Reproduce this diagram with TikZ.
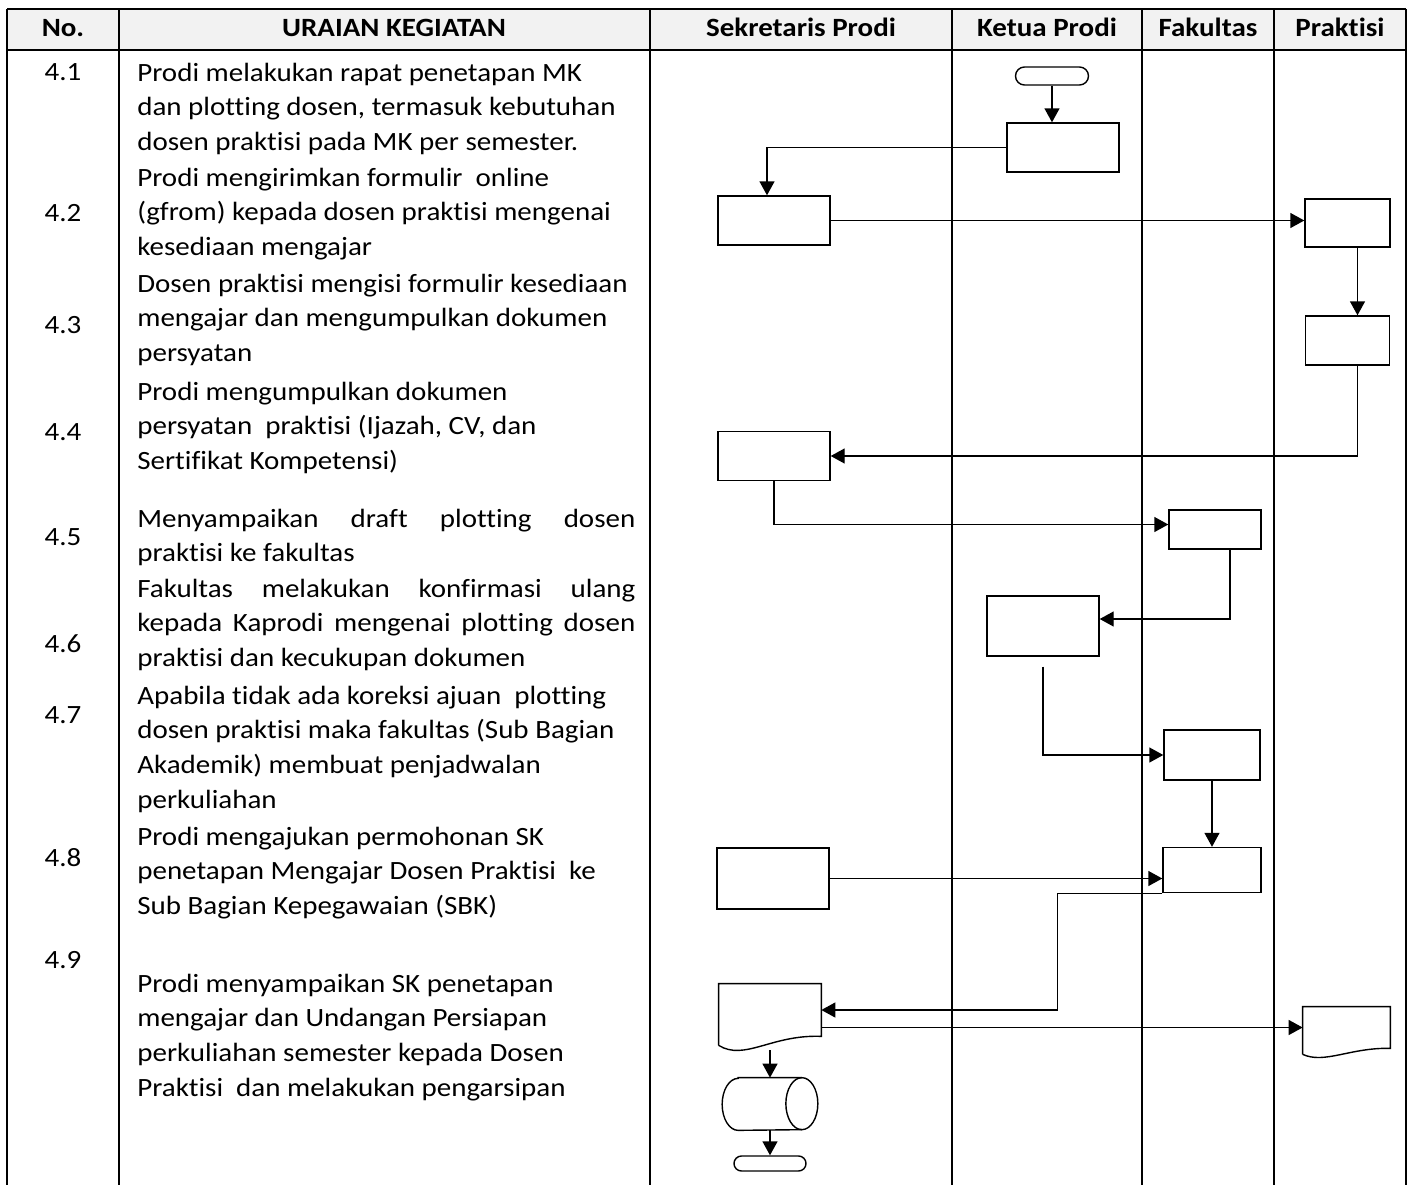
\documentclass[tikz,border=0pt]{standalone}
\usepackage{fontspec}
\setmainfont{Carlito}[Ligatures = NoCommon, FakeStretch = 1.1]
\usepackage{xcolor}
\definecolor{headgray}{HTML}{F2F2F2}
\usetikzlibrary{positioning, arrows.meta}

\begin{document}
\begin{tikzpicture} [x = 0.2mm, y = -0.2mm, on grid,
        font = \fontsize{15pt}{19.8pt}\selectfont,
        lane/.style = {line width = 0.85pt},
        box/.style = {draw, line width = 0.8pt, inner sep = 0pt},
        term/.style = {box, rounded corners = 1.8mm, minimum width = 14.6mm, minimum height = 3.6mm},
        num/.style = {anchor = base, inner sep = 0pt},
        desc/.style = {anchor = base west, inner sep = 0pt, text width = 99.6mm, align = left,
        execute at begin node = {\spaceskip = 0pt \xspaceskip = 0pt}},
        conn/.style = {line width = 0.8pt, -{Triangle[length = 2.8mm, width = 3mm]}}]
        \useasboundingbox (0,0) rectangle (1410,1185);

        % table
        \fill [headgray] (7,9) rectangle (1406,50);
        \draw [lane] (7,9) -- (1406,9) (7,50) -- (1406,50)
        (7,9) -- (7,1185) (119,9) -- (119,1185) (650,9) -- (650,1185)
        (952,9) -- (952,1185) (1142,9) -- (1142,1185) (1274,9) -- (1274,1185)
        (1406,9) -- (1406,1185);
        \node (hNo)[num] at (63,37) {\textbf{No.}};
        \node (hUraian)[num] at (394,37) {\textbf{URAIAN KEGIATAN}};
        \node (hSekprodi)[num] at (801,37) {\textbf{Sekretaris Prodi}};
        \node (hKaprodi)[num] at (1047,37) {\textbf{Ketua Prodi}};
        \node (hFakultas)[num] at (1208,37) {\textbf{Fakultas}};
        \node (hPraktisi)[num] at (1340,37) {\textbf{Praktisi}};

        % nomor
        \node (n41)[num] at (63,80) {4.1};
        \node (n42)[num] at (63,221) {4.2};
        \node (n43)[num] at (63,333) {4.3};
        \node (n44)[num] at (63,440) {4.4};
        \node (n45)[num] at (63,545) {4.5};
        \node (n46)[num] at (63,652) {4.6};
        \node (n47)[num] at (63,723) {4.7};
        \node (n48)[num] at (63,866) {4.8};
        \node (n49)[num] at (63,968) {4.9};

        % uraian
        \node (u41)[desc] at (137,81) {Prodi melakukan rapat penetapan MK\\
        dan plotting dosen, termasuk kebutuhan\\ dosen praktisi pada MK per semester.};
        \node (u42)[desc] at (137,186) {Prodi mengirimkan formulir\ \ online\\
        (gfrom) kepada dosen praktisi mengenai\\ kesediaan mengajar};
        \node (u43)[desc] at (137,292) {Dosen praktisi mengisi formulir kesediaan\\
        mengajar dan mengumpulkan dokumen\\ persyatan};
        \node (u44)[desc] at (137,400) {Prodi mengumpulkan dokumen\\
        persyatan\ \ praktisi (Ijazah, CV, dan\\ Sertifikat Kompetensi)};
        \node (u45)[desc] at (137,527) {\makebox[99.6mm][l]{Menyampaikan\hfill draft\hfill plotting\hfill dosen}\\
        praktisi ke fakultas};
        \node (u46)[desc] at (137,597) {\makebox[99.6mm][l]{Fakultas\hfill melakukan\hfill konfirmasi\hfill ulang}\\
        \makebox[99.6mm][l]{kepada\hfill Kaprodi\hfill mengenai\hfill plotting\hfill dosen}\\
        praktisi dan kecukupan dokumen};
        \node (u47)[desc] at (137,704) {Apabila tidak ada koreksi ajuan\ \ plotting\\
        dosen praktisi maka fakultas (Sub Bagian\\ Akademik) membuat penjadwalan\\ perkuliahan};
        \node (u48)[desc] at (137,845) {Prodi mengajukan permohonan SK\\
        penetapan Mengajar Dosen Praktisi\ \ ke\\ Sub Bagian Kepegawaian (SBK)};
        \node (u49)[desc] at (137,992) {Prodi menyampaikan SK penetapan\\
        mengajar dan Undangan Persiapan\\ perkuliahan semester kepada Dosen\\
        Praktisi\ \ dan melakukan pengarsipan};

        % flow
        \node (start)[term] at (1052,76) {};
        \node (k41)[box, minimum width = 22.4mm, minimum height = 9.8mm] at (1063,147.5) {};
        \node (s42)[box, minimum width = 22.4mm, minimum height = 9.8mm] at (774,220.5) {};
        \node (p42)[box, minimum width = 17mm, minimum height = 9.6mm] at (1347.5,223) {};
        \node (p43)[box, minimum width = 16.8mm, minimum height = 9.8mm, below = 23.5mm of p42] {};
        \node (s44)[box, minimum width = 22.4mm, minimum height = 9.8mm] at (774,456) {};
        \node (f45)[box, minimum width = 18.4mm, minimum height = 7.8mm] at (1215,529.5) {};
        \node (k46)[box, minimum width = 22.4mm, minimum height = 12mm] at (1043,626) {};
        \node (f47)[box, minimum width = 19.2mm, minimum height = 10mm] at (1212,755) {};
        \node (f48)[box, minimum width = 19.6mm, minimum height = 9mm, below = 23mm of f47] {};
        \node (s48)[box, minimum width = 22.4mm, minimum height = 12.2mm] at (773,878.5) {};
        \node (sd)[inner sep = 0pt, minimum width = 20.4mm, minimum height = 10.4mm] at (770,1010) {};
        \node (pd)[inner sep = 0pt, minimum width = 17.4mm, minimum height = 8.2mm] at (1346.5,1027.5) {};
        \node (arsip)[inner sep = 0pt, minimum width = 19mm, minimum height = 10.4mm, below = 18.8mm of sd] {};
        \node (stop)[term, minimum width = 14.4mm, minimum height = 3mm, rounded corners = 1.5mm,
        below = 11.9mm of arsip] {};

        % dokumen dan arsip
        \draw [line width = 0.8pt] ([yshift = -1.8mm]sd.south west) -- (sd.north west) -- (sd.north east)
        -- (sd.south east) .. controls +(-50,-2) and +(26,16) .. ([yshift = -1.8mm]sd.south west);
        \draw [line width = 0.8pt] ([yshift = -1.2mm]pd.south west) -- (pd.north west) -- (pd.north east)
        -- (pd.south east) .. controls +(-40,-1) and +(22,10) .. ([yshift = -1.2mm]pd.south west);
        \draw [line width = 0.8pt] ([xshift = 3.2mm]arsip.north west) -- ([xshift = -3.2mm]arsip.north east)
        arc [start angle = 90, end angle = -90, x radius = 3.2mm, y radius = 5.2mm]
        -- ([xshift = 3.2mm]arsip.south west)
        arc [start angle = 270, end angle = 90, x radius = 3.2mm, y radius = 5.2mm] -- cycle;
        \draw [line width = 0.8pt] ([xshift = -3.2mm]arsip.north east)
        arc [start angle = 90, end angle = 270, x radius = 3.2mm, y radius = 5.2mm];

        \draw [conn] (start.south) -- (start.south |- k41.north);
        \draw [conn] (k41.west) -| ([xshift = -1.4mm]s42.north);
        \draw [conn] (s42.east) -- (s42.east -| p42.west);
        \draw [conn] ([xshift = 2mm]p42.south) -- ([xshift = 2mm]p43.north);
        \draw [conn] ([xshift = 2mm]p43.south) |- (s44.east);
        \draw [conn] (s44.south) |- ([yshift = 1mm]f45.west);
        \draw [conn] ([xshift = 3mm]f45.south) |- ([yshift = 1.4mm]k46.east);
        \draw [conn] ([yshift = -2mm]k46.south) |- (f47.west);
        \draw [conn] (f47.south) -- (f48.north);
        \draw [conn] (s48.east) -- (s48.east -| f48.west);
        \draw [conn] (f48.south west) -- ++(-105,0) |- (sd.east);
        \draw [conn] (sd.east |- pd.west) -- (pd.west);
        \draw [conn] ([yshift = -2.8mm]sd.south) -- (arsip.north);
        \draw [conn] (arsip.south) -- (stop.north);
    \end{tikzpicture}
\end{document}
